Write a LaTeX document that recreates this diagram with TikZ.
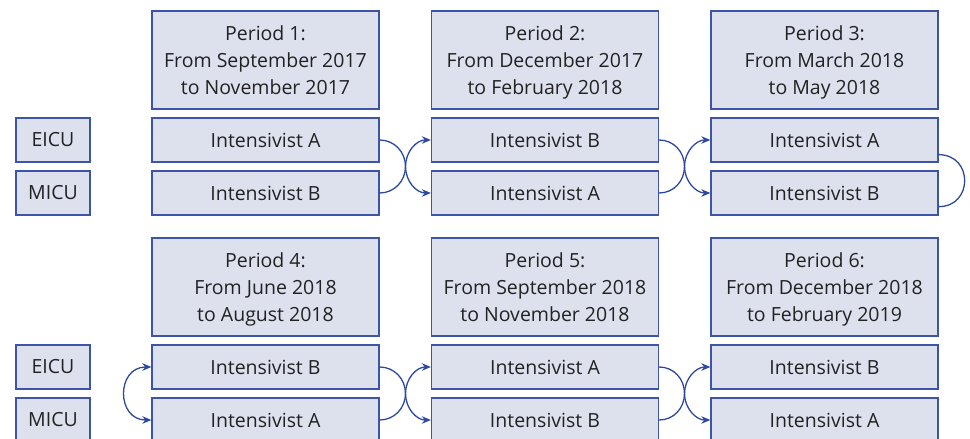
\documentclass[tikz,border=0pt]{standalone}
\usepackage{fontspec}
\setmainfont{Open Sans}
\usetikzlibrary{arrows.meta}

\definecolor{boxfill}{RGB}{221,225,238}
\definecolor{boxline}{RGB}{62,84,166}
\definecolor{arrline}{RGB}{44,72,160}
\definecolor{txt}{RGB}{34,34,34}

\tikzset{
  cell/.style={draw=boxline, fill=boxfill, line width=1.3pt, inner sep=0pt,
    minimum width=227pt, minimum height=44pt, text=txt, font=\fontsize{19.5}{27}\selectfont},
  header/.style={cell, minimum height=98pt, align=center, text depth=0pt},
  unit/.style={cell, minimum width=74pt},
  swap/.style={draw=arrline, line width=1.3pt, -{Stealth[length=9pt,width=7.5pt]}},
  loop/.style={draw=arrline, line width=1.3pt}
}

\begin{document}
\begin{tikzpicture}[x=1pt,y=-1pt]
\useasboundingbox (0,0) rectangle (970,439);

%Shape: Rectangle (unit labels)
\node[unit] (e1) at (53,140) {EICU};
\node[unit] (m1) at (53,193) {MICU};
\node[unit] (e2) at (53,367) {EICU};
\node[unit] (m2) at (53,420) {MICU};

%Shape: Rectangle (period headers)
\node[header] (h1) at (265.5,60) {Period 1:\\From September 2017\\to November 2017};
\node[header] (h2) at (545,60) {Period 2:\\From December 2017\\to February 2018};
\node[header] (h3) at (824.5,60) {Period 3:\\From March 2018\\to May 2018};
\node[header] (h4) at (265.5,287) {Period 4:\\From June 2018\\to August 2018};
\node[header] (h5) at (545,287) {Period 5:\\From September 2018\\to November 2018};
\node[header] (h6) at (824.5,287) {Period 6:\\From December 2018\\to February 2019};

%Shape: Rectangle (intensivist rows)
\node[cell] (p1a) at (265.5,140) {Intensivist A};
\node[cell] (p1b) at (265.5,193) {Intensivist B};
\node[cell] (p2a) at (545,140) {Intensivist B};
\node[cell] (p2b) at (545,193) {Intensivist A};
\node[cell] (p3a) at (824.5,140) {Intensivist A};
\node[cell] (p3b) at (824.5,193) {Intensivist B};
\node[cell] (p4a) at (265.5,367) {Intensivist B};
\node[cell] (p4b) at (265.5,420) {Intensivist A};
\node[cell] (p5a) at (545,367) {Intensivist A};
\node[cell] (p5b) at (545,420) {Intensivist B};
\node[cell] (p6a) at (824.5,367) {Intensivist B};
\node[cell] (p6b) at (824.5,420) {Intensivist A};

%Curves: swaps between periods
\coordinate (x12) at (405.5,166.5);
\coordinate (x23) at (684.5,166.5);
\coordinate (x45) at (405.5,393.5);
\coordinate (x56) at (684.5,393.5);
\draw[swap] (p1a.east) .. controls +(14.6,0) and +(0,-14.6) .. (x12) .. controls +(0,14.6) and +(-14.6,0) .. (p2b.west);
\draw[swap] (p1b.east) .. controls +(14.6,0) and +(0,14.6) .. (x12) .. controls +(0,-14.6) and +(-14.6,0) .. (p2a.west);
\draw[swap] (p2a.east) .. controls +(14.6,0) and +(0,-14.6) .. (x23) .. controls +(0,14.6) and +(-14.6,0) .. (p3b.west);
\draw[swap] (p2b.east) .. controls +(14.6,0) and +(0,14.6) .. (x23) .. controls +(0,-14.6) and +(-14.6,0) .. (p3a.west);
\draw[swap] (p4a.east) .. controls +(14.6,0) and +(0,-14.6) .. (x45) .. controls +(0,14.6) and +(-14.6,0) .. (p5b.west);
\draw[swap] (p4b.east) .. controls +(14.6,0) and +(0,14.6) .. (x45) .. controls +(0,-14.6) and +(-14.6,0) .. (p5a.west);
\draw[swap] (p5a.east) .. controls +(14.6,0) and +(0,-14.6) .. (x56) .. controls +(0,14.6) and +(-14.6,0) .. (p6b.west);
\draw[swap] (p5b.east) .. controls +(14.6,0) and +(0,14.6) .. (x56) .. controls +(0,-14.6) and +(-14.6,0) .. (p6a.west);

%Curves: wrap to next block
\draw[loop] ([yshift=8pt]p3a.south east) .. controls +(34.7,0) and +(34.7,0) .. ([yshift=9pt]p3b.south east);
\draw[swap, {Stealth[length=9pt,width=7.5pt]}-{Stealth[length=9pt,width=7.5pt]}] (p4a.west) .. controls +(-35.3,0) and +(-35.3,0) .. (p4b.west);

\end{tikzpicture}
\end{document}
